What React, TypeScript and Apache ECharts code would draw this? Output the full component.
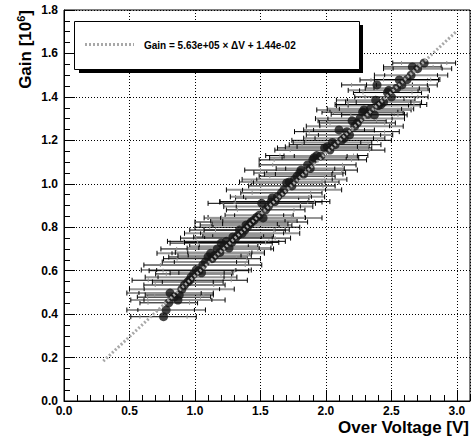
import React, { useEffect, useRef } from "react";
import * as echarts from "echarts";

// Over voltage [V]
const overVoltage = [
  0.76, 0.78, 0.80, 0.81, 0.84, 0.87, 0.88, 0.90, 0.92, 0.945,
  0.96, 0.97, 0.99, 1.01, 1.03, 1.05, 1.06, 1.08, 1.10, 1.12,
  1.13, 1.15, 1.17, 1.19, 1.20, 1.22, 1.24, 1.26, 1.28, 1.29,
  1.31, 1.33, 1.34, 1.36, 1.38, 1.39, 1.40, 1.42, 1.43, 1.45,
  1.47, 1.49, 1.51, 1.52, 1.54, 1.56, 1.58, 1.59, 1.61, 1.63,
  1.66, 1.68, 1.70, 1.72, 1.74, 1.76, 1.78, 1.80, 1.81, 1.83,
  1.86, 1.88, 1.90, 1.91, 1.93, 1.96, 1.99, 2.01, 2.03, 2.05,
  2.07, 2.10, 2.12, 2.14, 2.16, 2.18, 2.20, 2.22, 2.24, 2.26,
  2.28, 2.29, 2.32, 2.34, 2.37, 2.38, 2.39, 2.40, 2.42, 2.44,
  2.47, 2.48, 2.50, 2.54, 2.56, 2.58, 2.62, 2.65, 2.66, 2.70,
  2.75,
];

// Gain [10^6]
const gain = [
  0.388, 0.419, 0.452, 0.497, 0.478, 0.465, 0.488, 0.515, 0.534, 0.548,
  0.556, 0.570, 0.585, 0.603, 0.600, 0.590, 0.626, 0.640, 0.663, 0.680,
  0.655, 0.670, 0.700, 0.684, 0.727, 0.712, 0.735, 0.704, 0.730, 0.755,
  0.750, 0.764, 0.787, 0.772, 0.787, 0.810, 0.800, 0.815, 0.824, 0.832,
  0.845, 0.855, 0.910, 0.843, 0.880, 0.895, 0.916, 0.935, 0.918, 0.940,
  0.958, 0.972, 1.004, 1.008, 0.990, 1.020, 1.035, 1.050, 1.063, 1.045,
  1.087, 1.070, 1.110, 1.120, 1.130, 1.128, 1.165, 1.170, 1.155, 1.190,
  1.180, 1.248, 1.200, 1.210, 1.240, 1.225, 1.290, 1.265, 1.280, 1.300,
  1.330, 1.340, 1.320, 1.345, 1.317, 1.385, 1.455, 1.360, 1.365, 1.376,
  1.420, 1.430, 1.400, 1.440, 1.478, 1.455, 1.480, 1.500, 1.538, 1.530,
  1.556,
];

// Horizontal error (half width) [V]
const voltageError = [
  0.25, 0.30, 0.22, 0.33, 0.28, 0.36, 0.26, 0.40, 0.31, 0.27,
  0.44, 0.35, 0.29, 0.42, 0.38, 0.24, 0.45, 0.33, 0.30, 0.41,
  0.37, 0.28, 0.43, 0.34, 0.39, 0.26, 0.45, 0.32, 0.36, 0.30,
  0.42, 0.27, 0.38, 0.44, 0.31, 0.35, 0.40, 0.29, 0.43, 0.33,
  0.37, 0.26, 0.41, 0.45, 0.30, 0.34, 0.39, 0.28, 0.42, 0.36,
  0.31, 0.44, 0.27, 0.38, 0.33, 0.40, 0.29, 0.35, 0.43, 0.30,
  0.37, 0.26, 0.41, 0.34, 0.39, 0.28, 0.36, 0.32, 0.42, 0.30,
  0.35, 0.27, 0.38, 0.31, 0.40, 0.33, 0.26, 0.37, 0.29, 0.34,
  0.31, 0.36, 0.28, 0.33, 0.25, 0.30, 0.27, 0.32, 0.35, 0.29,
  0.26, 0.31, 0.28, 0.24, 0.30, 0.27, 0.25, 0.28, 0.22, 0.26,
  0.24,
];

const xTickLabels = ["0.0", "0.5", "1.0", "1.5", "2.0", "2.5", "3.0"];
const yTickLabels = ["0.0", "0.2", "0.4", "0.6", "0.8", "1.0", "1.2", "1.4", "1.6", "1.8"];

// Fit: Gain = 5.63e+05 x dV + 1.44e-02 (in 10^6 units)
const fitSlope = 0.563;
const fitIntercept = 0.0144;
const fitRange = [0.3, 3.0];

const FONT = "'Liberation Sans', Arial, Helvetica, sans-serif";

export default function App() {
  const ref = useRef<HTMLDivElement>(null);

  useEffect(() => {
    if (!ref.current) return;
    const chart = echarts.init(ref.current, undefined, { renderer: "svg" });

    const points = overVoltage.map((v, i) => [v, gain[i]]);
    const bars = overVoltage.map((v, i) => [v, gain[i], voltageError[i], i % 2]);
    const fit = fitRange.map((v) => [v, fitSlope * v + fitIntercept]);

    const labelStyle = {
      fontFamily: FONT,
      fontWeight: "bold" as const,
      fontSize: 12,
      color: "#000",
    };

    const option: any = {
      animation: false,
      backgroundColor: "#fff",
      grid: {
        left: 64,
        right: 4,
        top: 10,
        bottom: 38,
        show: true,
        borderColor: "#000",
        borderWidth: 1,
        backgroundColor: "transparent",
      },
      xAxis: [
        {
          type: "value",
          min: 0,
          max: 3.1,
          interval: 0.5,
          axisLine: { show: true, lineStyle: { color: "#000", width: 1 } },
          axisTick: { show: true, inside: true, length: 11, lineStyle: { color: "#000" } },
          axisLabel: {
            ...labelStyle,
            margin: 4,
            showMaxLabel: false,
            formatter: (v: number) => xTickLabels[Math.round(v / 0.5)] ?? "",
          },
          splitLine: { show: true, lineStyle: { color: "#000", type: [1, 2], width: 1 } },
        },
        {
          type: "value",
          gridIndex: 0,
          position: "bottom",
          min: 0,
          max: 3.1,
          interval: 0.1,
          axisLine: { show: false },
          axisTick: { show: true, inside: true, length: 6, lineStyle: { color: "#000" } },
          axisLabel: { show: false },
          splitLine: { show: false },
        },
      ],
      yAxis: [
        {
          type: "value",
          min: 0,
          max: 1.8,
          interval: 0.2,
          axisLine: { show: true, lineStyle: { color: "#000", width: 1 } },
          axisTick: { show: true, inside: true, length: 11, lineStyle: { color: "#000" } },
          axisLabel: {
            ...labelStyle,
            margin: 6,
            formatter: (v: number) => yTickLabels[Math.round(v / 0.2)] ?? "",
          },
          splitLine: { show: true, lineStyle: { color: "#000", type: [1, 2], width: 1 } },
        },
        {
          type: "value",
          gridIndex: 0,
          position: "left",
          min: 0,
          max: 1.8,
          interval: 0.05,
          axisLine: { show: false },
          axisTick: { show: true, inside: true, length: 6, lineStyle: { color: "#000" } },
          axisLabel: { show: false },
          splitLine: { show: false },
        },
      ],
      series: [
        {
          type: "custom",
          xAxisIndex: 0,
          yAxisIndex: 0,
          data: bars,
          encode: { x: 0, y: 1 },
          z: 2,
          renderItem: (params: any, api: any) => {
            const v = api.value(0);
            const g = api.value(1);
            const e = api.value(2);
            const shade = api.value(3);
            const l = api.coord([v - e, g]);
            const r = api.coord([v + e, g]);
            const il = api.coord([v - e * 0.72, g]);
            const ir = api.coord([v + e * 0.72, g]);
            const col = shade ? "#959595" : "#000";
            const cap = (x: number, y: number, h: number, c: string) => ({
              type: "line",
              shape: { x1: x, y1: y - h, x2: x, y2: y + h },
              style: { stroke: c, lineWidth: 1 },
            });
            return {
              type: "group",
              children: [
                {
                  type: "line",
                  shape: { x1: l[0], y1: l[1], x2: r[0], y2: r[1] },
                  style: { stroke: col, lineWidth: shade ? 2 : 1 },
                },
                cap(l[0], l[1], 2.5, "#000"),
                cap(r[0], r[1], 2.5, "#000"),
                cap(il[0], il[1], 2, shade ? "#000" : "#959595"),
                cap(ir[0], ir[1], 2, shade ? "#000" : "#959595"),
              ],
            };
          },
        },
        {
          type: "scatter",
          xAxisIndex: 0,
          yAxisIndex: 0,
          data: points,
          symbol: "circle",
          symbolSize: 9,
          itemStyle: { color: "#151515" },
          z: 3,
        },
        {
          type: "line",
          xAxisIndex: 0,
          yAxisIndex: 0,
          data: fit,
          showSymbol: false,
          symbol: "none",
          lineStyle: { color: "#a8a8a8", width: 3, type: [2, 2] },
          z: 4,
        },
      ],
      graphic: [
        {
          type: "rect",
          shape: { x: 79, y: 25, width: 284, height: 48 },
          style: { fill: "#000" },
          z: 10,
        },
        {
          type: "rect",
          shape: { x: 74.5, y: 21.5, width: 285, height: 48 },
          style: { fill: "#fff", stroke: "#000", lineWidth: 1 },
          z: 11,
        },
        {
          type: "line",
          shape: { x1: 85, y1: 44.5, x2: 134, y2: 44.5 },
          style: { stroke: "#a8a8a8", lineWidth: 3, lineDash: [2, 2] },
          z: 12,
        },
        {
          type: "text",
          x: 144,
          y: 45,
          style: {
            text: "Gain = 5.63e+05 × ΔV + 1.44e-02",
            fontFamily: FONT,
            fontWeight: "bold",
            fontSize: 10,
            fill: "#000",
            align: "left",
            verticalAlign: "middle",
          },
          z: 12,
        },
        {
          type: "text",
          x: 25,
          y: 10,
          rotation: Math.PI / 2,
          style: {
            text: "{a|Gain [10}{s|6}{a|]}",
            align: "right",
            verticalAlign: "middle",
            rich: {
              a: { fontFamily: FONT, fontWeight: "bold", fontSize: 17, fill: "#000" },
              s: {
                fontFamily: FONT,
                fontWeight: "bold",
                fontSize: 11,
                fill: "#000",
                padding: [0, 0, 9, 0],
              },
            },
          },
          z: 12,
        },
        {
          type: "text",
          x: 469,
          y: 427,
          style: {
            text: "Over Voltage [V]",
            fontFamily: FONT,
            fontWeight: "bold",
            fontSize: 17,
            fill: "#000",
            align: "right",
            verticalAlign: "middle",
          },
          z: 12,
        },
      ],
    };

    chart.setOption(option);
    return () => chart.dispose();
  }, []);

  return (
    <div
      ref={ref}
      style={{ position: "absolute", left: 0, top: 0, width: 474, height: 439 }}
    />
  );
}
